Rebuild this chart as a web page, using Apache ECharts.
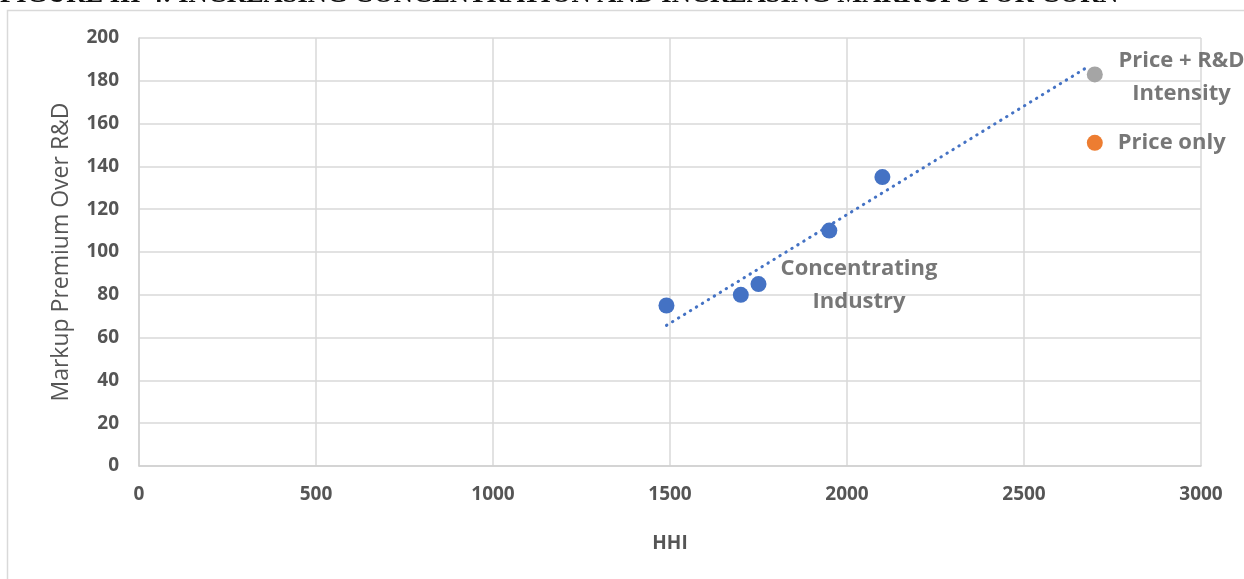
<!DOCTYPE html>
<html><head><meta charset="utf-8">
<script src="https://cdn.jsdelivr.net/npm/echarts@6/dist/echarts.min.js"></script>
<style>html,body{margin:0;padding:0;background:#fff}#c{width:1244px;height:579px}</style>
</head><body><div id="c"></div>
<script>
const hhi = [1490, 1700, 1750, 1950, 2100];
const markup = [75, 80, 85, 110, 135];
const trendLine = [[1490, 65.7], [2685, 187]];
const priceRdPoint = [2700, 183];
const priceOnlyPoint = [2700, 151];
const labels = {
  concentrating: 'Concentrating\nIndustry',
  priceRd: 'Price + R&D\nIntensity',
  priceOnly: 'Price only'
};
const titleText = 'FIGURE III-4: INCREASING CONCENTRATION AND INCREASING MARKUPS FOR CORN';

const chart = echarts.init(document.getElementById('c'), null, {renderer: 'canvas'});
const FONT = '"Open Sans", "Noto Sans", sans-serif';
const grey = '#555555';

const option = {
  animation: false,
  backgroundColor: '#fff',
  grid: {left: 139, right: 43, top: 38, bottom: 113, containLabel: false},
  xAxis: {
    type: 'value', min: 0, max: 3000, interval: 500,
    name: 'HHI', nameLocation: 'middle', nameGap: 68,
    nameTextStyle: {fontFamily: FONT, fontWeight: 'bold', fontSize: 19, color: grey},
    axisLine: {show: true, lineStyle: {color: '#d0d0d0', width: 1.5}},
    axisTick: {show: false},
    axisLabel: {fontFamily: FONT, fontWeight: 'bold', fontSize: 19, color: grey, margin: 19,
                formatter: v => String(v)},
    splitLine: {show: true, lineStyle: {color: '#d9d9d9', width: 1.5}}
  },
  yAxis: {
    type: 'value', min: 0, max: 200, interval: 20,
    name: 'Markup Premium Over R&D', nameLocation: 'middle', nameGap: 66,
    nameTextStyle: {fontFamily: FONT, fontSize: 23, color: grey},
    axisLine: {show: true, lineStyle: {color: '#d0d0d0', width: 1.5}},
    axisTick: {show: false},
    axisLabel: {fontFamily: FONT, fontWeight: 'bold', fontSize: 19, color: grey, margin: 20},
    splitLine: {show: true, lineStyle: {color: '#d9d9d9', width: 1.5}}
  },
  graphic: [
    {type: 'rect', shape: {x: 7.5, y: 10.5, width: 1300, height: 700},
     style: {fill: 'none', stroke: '#d9d9d9', lineWidth: 1.5}, z: -1},
    {type: 'text', x: 0, y: 9,
     style: {text: titleText, verticalAlign: 'bottom', fill: '#111',
       font: 'bold 26.5px "Liberation Serif", serif'}}
  ],
  series: [
    {type: 'line', data: trendLine, symbol: 'none', silent: true,
     lineStyle: {color: '#4472C4', width: 3, type: [0.5, 6.5], cap: 'round'}, z: 1},
    {type: 'scatter', data: hhi.map((x, i) => [x, markup[i]]), symbolSize: 16,
     itemStyle: {color: '#4472C4', opacity: 1}, z: 3},
    {type: 'scatter', data: [priceRdPoint], symbolSize: 16,
     itemStyle: {color: '#A5A5A5', opacity: 1}, z: 3},
    {type: 'scatter', data: [priceOnlyPoint], symbolSize: 16,
     itemStyle: {color: '#ED7D31', opacity: 1}, z: 3},
    {type: 'scatter', symbolSize: 0, silent: true,
     data: [
       {value: [2034, 84.3], label: {show: true, formatter: labels.concentrating, position: 'inside', align: 'center', verticalAlign: 'middle'}},
       {value: [2945, 181.7], label: {show: true, formatter: labels.priceRd, position: 'inside', align: 'center', verticalAlign: 'middle'}},
       {value: [2700, 151], label: {show: true, formatter: labels.priceOnly, position: 'inside', align: 'left', verticalAlign: 'middle', offset: [23, 0]}}
     ],
     label: {fontFamily: FONT, fontWeight: 'bold', fontSize: 22, color: grey, lineHeight: 33},
     z: 4}
  ]
};
chart.setOption(option);
</script>
</body></html>
